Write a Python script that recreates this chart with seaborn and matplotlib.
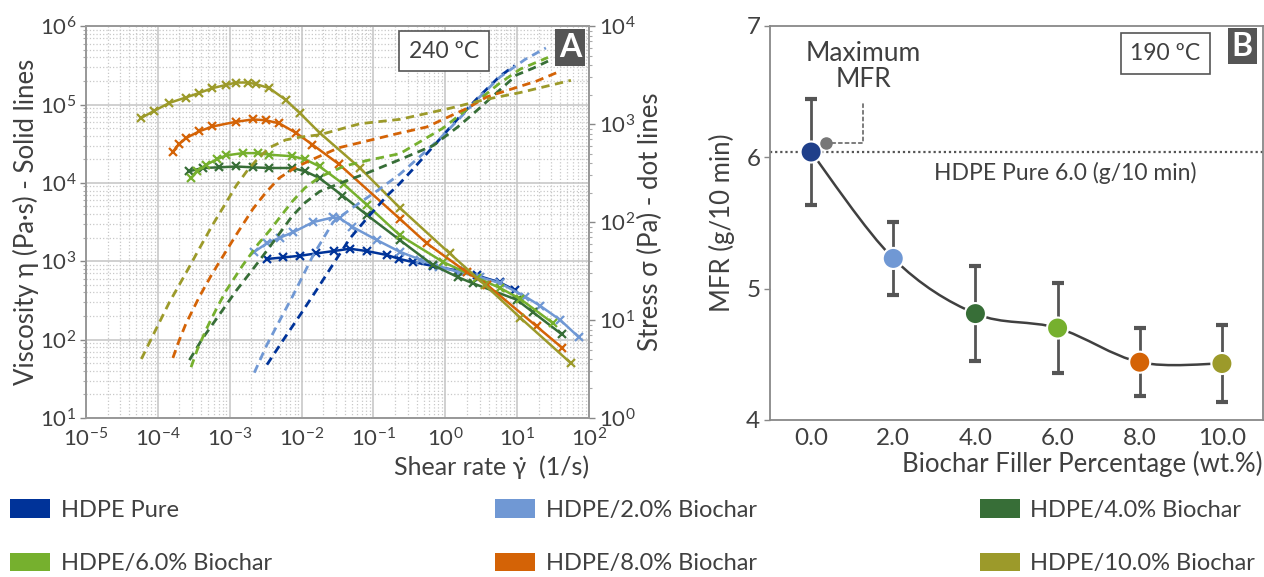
import numpy as np
import matplotlib
matplotlib.use("Agg")
import matplotlib.pyplot as plt
import seaborn as sns
from matplotlib.patches import Patch, PathPatch
from matplotlib.path import Path
from matplotlib.ticker import LogLocator, NullFormatter

# ---- datos panel A (reología 240 ºC) ----
series_names = ["HDPE Pure", "HDPE/2.0% Biochar", "HDPE/4.0% Biochar",
                "HDPE/6.0% Biochar", "HDPE/8.0% Biochar", "HDPE/10.0% Biochar"]
series_colors = ["#003399", "#7098d4", "#376e37", "#76b02e", "#d46306", "#9c9a2a"]

shear_pure = [3.3e-3, 5.6e-3, 9.5e-3, 1.6e-2, 2.8e-2, 4.7e-2, 8.1e-2, 0.155, 0.23, 0.35, 0.68, 1.48, 2.75, 5.75, 9.3]
visc_pure = [1070, 1120, 1175, 1260, 1350, 1445, 1350, 1200, 1070, 980, 870, 760, 660, 537, 427]
stress_shear_pure = [3.3e-3, 5.6e-3, 9.5e-3, 1.6e-2, 2.8e-2, 4.7e-2, 8.1e-2, 0.155, 0.23, 0.35, 0.68, 1.48, 2.75, 5.75, 9.3]
stress_pure = [3.5, 6.3, 11.2, 20, 38, 68, 109, 186, 246, 343, 592, 1125, 1815, 3090, 3970]

shear_2 = [2.2e-3, 3.3e-3, 5.0e-3, 7.6e-3, 1.45e-2, 2.75e-2, 3.4e-2, 5.1e-2, 0.112, 0.234, 0.447, 0.83, 1.58, 3.0, 5.75, 12.9, 20.9, 39.8, 72.4]
visc_2 = [1320, 1700, 2000, 2340, 3160, 3630, 3550, 2750, 1860, 1320, 1050, 850, 725, 630, 525, 355, 270, 178, 107]
stress_shear_2 = [2.2e-3, 3.3e-3, 5.0e-3, 7.6e-3, 1.45e-2, 2.75e-2, 5.1e-2, 0.112, 0.234, 0.447, 0.83, 1.58, 3.0, 5.75, 12.9, 25.1]
stress_2 = [2.9, 5.6, 10, 17.8, 45.8, 100, 140, 208, 309, 469, 706, 1145, 1890, 3020, 4580, 6000]

shear_4 = [2.75e-4, 4.2e-4, 7.1e-4, 1.23e-3, 2.1e-3, 3.55e-3, 7.4e-3, 1.12e-2, 1.78e-2, 3.7e-2, 8.1e-2, 0.234, 0.68, 1.48, 2.4, 9.8, 16.6, 41.7]
visc_4 = [14100, 15500, 15800, 16200, 15800, 15500, 15500, 14100, 11500, 6900, 3900, 1860, 890, 630, 525, 324, 224, 117]
stress_shear_4 = [2.75e-4, 4.2e-4, 7.1e-4, 1.23e-3, 2.1e-3, 3.55e-3, 7.4e-3, 1.12e-2, 1.78e-2, 3.7e-2, 8.1e-2, 0.234, 0.68, 1.48, 2.4, 9.8, 16.6, 26.9]
stress_4 = [3.9, 6.5, 11.2, 19.9, 33, 55, 115, 158, 205, 255, 316, 435, 605, 932, 1260, 3175, 3720, 4400]

shear_6 = [2.9e-4, 3.55e-4, 4.7e-4, 6.6e-4, 8.9e-4, 1.51e-3, 2.5e-3, 3.55e-3, 7.4e-3, 1.12e-2, 1.78e-2, 3.9e-2, 8.1e-2, 0.234, 0.93, 2.75, 5.75, 11.0, 31.6]
visc_6 = [11500, 14100, 17000, 20000, 22400, 24000, 24000, 22900, 21900, 20000, 16200, 9550, 5250, 2140, 980, 617, 457, 331, 162]
stress_shear_6 = [2.9e-4, 3.55e-4, 4.7e-4, 6.6e-4, 8.9e-4, 1.51e-3, 2.5e-3, 3.55e-3, 7.4e-3, 1.12e-2, 1.78e-2, 3.9e-2, 8.1e-2, 0.234, 0.93, 2.75, 5.75, 11.0, 26.9]
stress_6 = [3.3, 5.0, 8.0, 13.2, 19.9, 36, 60, 81, 162, 224, 288, 372, 425, 500, 911, 1700, 2630, 3640, 4800]

shear_8 = [1.62e-4, 2.0e-4, 2.45e-4, 3.8e-4, 5.75e-4, 1.23e-3, 2.1e-3, 3.16e-3, 4.9e-3, 8.3e-3, 1.41e-2, 3.3e-2, 0.234, 0.55, 2.0, 3.8, 18.6, 42.7]
visc_8 = [25100, 31600, 37200, 45700, 52500, 60300, 64600, 63100, 57500, 43700, 30900, 17400, 3470, 1700, 724, 501, 148, 78]
stress_shear_8 = [1.62e-4, 2.0e-4, 2.45e-4, 3.8e-4, 5.75e-4, 1.23e-3, 2.1e-3, 3.16e-3, 4.9e-3, 8.3e-3, 1.41e-2, 3.3e-2, 0.234, 0.55, 2.0, 3.8, 18.6, 38.9]
stress_8 = [4.1, 6.3, 9.1, 17.4, 30, 74, 136, 199, 282, 363, 436, 574, 812, 935, 1450, 1900, 2750, 3450]

shear_10 = [5.9e-5, 8.9e-5, 1.45e-4, 2.45e-4, 3.8e-4, 5.75e-4, 8.9e-4, 1.23e-3, 1.78e-3, 2.34e-3, 3.55e-3, 6.0e-3, 9.5e-3, 1.78e-2, 6.5e-2, 0.234, 1.15, 3.55, 11.0, 56]
visc_10 = [67600, 83200, 105000, 123000, 141000, 162000, 178000, 191000, 191000, 182000, 162000, 115000, 77600, 43700, 15500, 4790, 1260, 501, 191, 50]
stress_shear_10 = [5.9e-5, 8.9e-5, 1.45e-4, 2.45e-4, 3.8e-4, 5.75e-4, 8.9e-4, 1.23e-3, 1.78e-3, 2.34e-3, 3.55e-3, 6.0e-3, 9.5e-3, 1.78e-2, 6.5e-2, 0.234, 1.15, 3.55, 11.0, 56]
stress_10 = [4.0, 7.4, 15.2, 30, 54, 93, 158, 235, 340, 426, 575, 690, 737, 778, 1010, 1120, 1450, 1780, 2100, 2800]

# ---- datos panel B (MFR 190 ºC) ----
filler_pct = [0.0, 2.0, 4.0, 6.0, 8.0, 10.0]
mfr = [6.04, 5.23, 4.81, 4.70, 4.44, 4.43]
mfr_err = [0.40, 0.28, 0.36, 0.34, 0.26, 0.29]
mfr_colors = ["#1f3f8a", "#7098d4", "#376e37", "#76b02e", "#d46306", "#9c9a2a"]
pure_mfr_ref = 6.04

# ---- estilo ----
sns.set_theme(style="white")
plt.rcParams["font.family"] = ["Lato", "DejaVu Sans"]
plt.rcParams["mathtext.fontset"] = "custom"
plt.rcParams["mathtext.rm"] = "Lato"
plt.rcParams["mathtext.it"] = "Lato:italic"
plt.rcParams["text.color"] = "#404040"
plt.rcParams["axes.labelcolor"] = "#404040"
plt.rcParams["xtick.color"] = "#404040"
plt.rcParams["ytick.color"] = "#404040"

fig = plt.figure(figsize=(12.64, 5.77), dpi=100)
axA = fig.add_axes([0.068, 0.2756, 0.398, 0.679])
axB = fig.add_axes([0.6092, 0.2721, 0.390, 0.683])

# ---- panel A ----
axA.set_xscale("log")
axA.set_yscale("log")
axA.set_xticks(10.0 ** np.arange(-5, 3))
axA.set_yticks(10.0 ** np.arange(1, 7))
for axis in (axA.xaxis, axA.yaxis):
    axis.set_minor_locator(LogLocator(base=10, subs=np.arange(2, 10), numticks=100))
    axis.set_minor_formatter(NullFormatter())
axA.set_xlim(1e-5, 1e2)
axA.set_ylim(10, 1e6)
axA.grid(which="major", color="#c4c4c4", lw=1.1)
axA.grid(which="minor", color="#c8c8c8", lw=0.9, ls=":")
axA.set_axisbelow(True)

axR = axA.twinx()
axR.set_yscale("log")
axR.set_yticks(10.0 ** np.arange(0, 5))
axR.yaxis.set_minor_locator(LogLocator(base=10, subs=np.arange(2, 10), numticks=100))
axR.yaxis.set_minor_formatter(NullFormatter())
axR.set_ylim(1, 1e4)

visc_sets = [(shear_pure, visc_pure), (shear_2, visc_2), (shear_4, visc_4),
             (shear_6, visc_6), (shear_8, visc_8), (shear_10, visc_10)]
stress_sets = [(stress_shear_pure, stress_pure), (stress_shear_2, stress_2), (stress_shear_4, stress_4),
               (stress_shear_6, stress_6), (stress_shear_8, stress_8), (stress_shear_10, stress_10)]

for (sx, sy), col in zip(visc_sets, series_colors):
    sns.lineplot(x=sx, y=sy, ax=axA, color=col, marker="x", markersize=6,
                 markeredgewidth=1.6, markeredgecolor=col, linewidth=1.8,
                 estimator=None, sort=False)
for (sx, sy), col in zip(stress_sets, series_colors):
    sns.lineplot(x=sx, y=sy, ax=axR, color=col, linestyle=(0, (3, 2)),
                 linewidth=2.0, estimator=None, sort=False)

for ax in (axA, axR):
    ax.tick_params(which="major", labelsize=16, length=4, width=1, color="#888888", pad=3)
    ax.tick_params(which="minor", length=2, width=0.8, color="#aaaaaa")
    for sp in ax.spines.values():
        sp.set_color("#999999")

axA.set_ylabel("Viscosity η (Pa·s) - Solid lines", fontsize=18.5)
axA.yaxis.set_label_coords(-0.094, 0.5)
axR.set_ylabel("Stress σ (Pa) - dot lines", fontsize=18.5, labelpad=2)
axA.set_xlabel("Shear rate γ̇  (1/s)", fontsize=18, loc="right", labelpad=3)

axR.text(0.712, 0.936, "240 ºC", transform=axA.transAxes, ha="center", va="center",
         fontsize=16.5, bbox=dict(boxstyle="square,pad=0.42", fc="white", ec="#555555", lw=1.2), zorder=10)
axR.text(0.962, 0.946, "A", transform=axA.transAxes, ha="center", va="center",
         fontsize=23, fontweight="bold", color="white",
         bbox=dict(boxstyle="square,pad=0.12", fc="#555555", ec="none"), zorder=10)

# ---- panel B ----
axB.set_xlim(-1, 11)
axB.set_ylim(4, 7)
axB.set_yticks([4, 5, 6, 7])
axB.set_xticks(filler_pct)
axB.set_xticklabels([f"{v:.1f}" for v in filler_pct])
axB.tick_params(axis="both", labelsize=17.5)
axB.tick_params(axis="y", length=4, width=1, color="#888888", left=True, pad=3)
axB.tick_params(axis="x", length=0, pad=6)
for sp in axB.spines.values():
    sp.set_color("#888888")
    sp.set_linewidth(1.3)

axB.axhline(pure_mfr_ref, color="#555555", ls=(0, (1, 1.3)), lw=1.6, zorder=1)
axB.errorbar(filler_pct, mfr, yerr=mfr_err, fmt="none", ecolor="#555555",
             elinewidth=2, capsize=4, capthick=3, zorder=2)

# curva suavizada (tipo Excel) con Bezier a partir de los puntos
pts = np.column_stack([filler_pct, mfr])
ext = np.vstack([pts[0], pts, pts[-1]])
verts = [pts[0]]
codes = [Path.MOVETO]
for i in range(len(pts) - 1):
    p0, p1, p2, p3 = ext[i], ext[i + 1], ext[i + 2], ext[i + 3]
    verts += [p1 + (p2 - p0) / 6, p2 - (p3 - p1) / 6, p2]
    codes += [Path.CURVE4] * 3
axB.add_patch(PathPatch(Path(verts, codes), fill=False, ec="#404040", lw=1.8, zorder=3))

sns.scatterplot(x=filler_pct, y=mfr, hue=series_names, palette=mfr_colors, s=230,
                edgecolor="white", linewidth=1.5, legend=False, zorder=4, ax=axB)

axB.plot(0.36, 6.11, "o", color="#777777", ms=8, zorder=4)
axB.annotate("Maximum\nMFR", xy=(0.45, 6.11), xytext=(1.27, 6.69), ha="center", va="center",
             fontsize=19, linespacing=1.05,
             arrowprops=dict(arrowstyle="-", color="#666666", ls=(0, (2, 2)), lw=1.2,
                             connectionstyle="angle,angleA=90,angleB=0,rad=0", shrinkA=6, shrinkB=0))
axB.text(6.18, 5.88, "HDPE Pure 6.0 (g/10 min)", ha="center", va="center", fontsize=16.5)

axB.text(0.802, 0.930, "190 ºC", transform=axB.transAxes, ha="center", va="center",
         fontsize=16.5, bbox=dict(boxstyle="square,pad=0.42", fc="white", ec="#555555", lw=1.2), zorder=10)
axB.text(0.958, 0.949, "B", transform=axB.transAxes, ha="center", va="center",
         fontsize=23, fontweight="bold", color="white",
         bbox=dict(boxstyle="square,pad=0.12", fc="#555555", ec="none"), zorder=10)

axB.set_ylabel("MFR (g/10 min)", fontsize=18.5, labelpad=8)
axB.set_xlabel("Biochar Filler Percentage (wt.%)", fontsize=18.5, loc="right", labelpad=1)

# ---- leyenda ----
handles = [Patch(facecolor=c, edgecolor="none", label=n) for n, c in zip(series_names, series_colors)]
order = [0, 3, 1, 4, 2, 5]
fig.legend([handles[i] for i in order], [series_names[i] for i in order],
           ncol=3, loc="lower left", bbox_to_anchor=(0.008, 0.005, 0.985, 0.16), mode="expand",
           frameon=False, fontsize=17, handlelength=1.7, handleheight=0.82,
           handletextpad=0.45, labelspacing=1.35, borderaxespad=0, borderpad=0)

fig.savefig("out.png", dpi=100)
